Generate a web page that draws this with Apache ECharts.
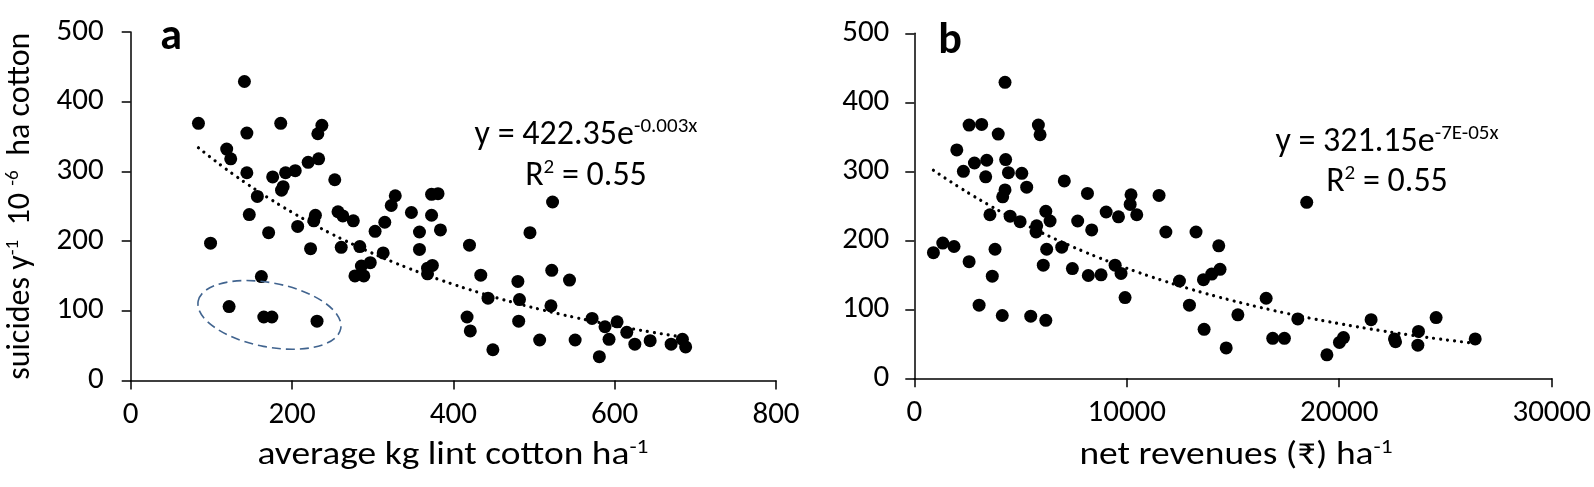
<!DOCTYPE html>
<html>
<head>
<meta charset="utf-8">
<script src="https://cdn.jsdelivr.net/npm/echarts@6/dist/echarts.min.js"></script>
<style>
  html, body { margin: 0; padding: 0; background: #fff; }
  #main { width: 1594px; height: 487px; }
</style>
</head>
<body>
<div id="main"></div>
<script>
// panel a: average kg lint cotton per ha vs suicides
var lintYield = [84, 141, 144, 119, 124, 144, 176, 192, 204, 189, 187, 186, 157, 147, 171, 99, 207, 220, 233, 232,
  237, 229, 227, 253, 257, 263, 276, 303, 315, 323, 328, 348, 358, 223, 261, 284, 313, 297, 286, 278,
  289, 358, 162, 122, 165, 175, 231, 373, 381, 373, 384, 523, 495, 420, 368, 374, 368, 434, 443, 480,
  482, 522, 544, 521, 417, 421, 481, 449, 507, 551, 572, 588, 603, 593, 615, 625, 644, 670, 684, 688, 581];
var suicidesA = [369, 429, 355, 332, 318, 298, 292, 298, 301, 278, 273, 369, 264, 238, 212, 197, 221, 313, 318, 354,
  366, 237, 229, 288, 242, 236, 229, 214, 227, 251, 265, 241, 213, 189, 191, 192, 183, 169, 164, 150,
  150, 188, 149, 106, 91, 91, 85, 267, 268, 237, 216, 256, 212, 194, 161, 165, 153, 151, 118, 142,
  116, 158, 144, 107, 91, 71, 85, 44, 58, 58, 89, 77, 84, 59, 69, 52, 57, 52, 59, 48, 34];

// panel b: net revenues per ha vs suicides
var netRevenue = [4270, 2580, 3170, 3950, 5840, 5920, 2000, 2830, 3410, 2310, 3360, 4300, 4430, 5060, 4270, 4160, 5290, 7060, 3560, 4510,
  4980, 5760, 5730, 6190, 6390, 7690, 8150, 8350, 9030, 9610, 10200, 10160, 10470, 11520, 11840, 13260, 14330, 900, 1340, 1870,
  2580, 3800, 3670, 3050, 4140, 5480, 6190, 6230, 6070, 6940, 7440, 8190, 8790, 9450, 9730, 9920, 12480, 12950, 13640, 13610,
  14000, 14390, 14680, 15230, 16560, 16870, 17420, 18050, 19420, 20010, 20200, 21500, 22600, 22650, 23730, 23700, 24560, 26400, 18470];
var suicidesB = [429, 367, 368, 354, 367, 353, 331, 312, 316, 300, 292, 317, 298, 297, 273, 263, 277, 286, 237, 235,
  227, 221, 212, 242, 228, 228, 268, 215, 241, 234, 266, 252, 237, 265, 212, 212, 192, 182, 196, 191,
  169, 187, 148, 106, 91, 90, 84, 187, 164, 190, 159, 149, 150, 164, 152, 117, 141, 106, 71, 143,
  151, 158, 44, 92, 116, 58, 58, 86, 34, 52, 59, 85, 57, 53, 68, 48, 88, 57, 255];

// exponential fits printed on the chart
var fitA = { a: 422.35, b: -0.0028 };
var fitB = { a: 321.15, b: -0.00007 };

// circled outliers in panel a (centre and half widths in data units)
var ringCentre = [172, 94];
var ringHalf = [90, 46];

var yTicks = { min: 0, max: 500, interval: 100 };
var xTicksA = { min: 0, max: 800, interval: 200 };
var xTicksB = { min: 0, max: 30000, interval: 10000 };

var FONT = 'Carlito, Lato, "Noto Sans", sans-serif';

function pairs(xs, ys) {
  var out = [];
  for (var i = 0; i < xs.length; i++) out.push([xs[i], ys[i]]);
  return out;
}

function fitLine(xs, fit) {
  var lo = Math.min.apply(null, xs), hi = Math.max.apply(null, xs);
  var out = [];
  for (var i = 0; i <= 40; i++) {
    var x = lo + (hi - lo) * i / 40;
    out.push([x, fit.a * Math.exp(fit.b * x)]);
  }
  return out;
}

function axisBase() {
  return {
    axisLine: { show: true, onZero: false, lineStyle: { color: '#000', width: 1.5 } },
    axisTick: { show: true, inside: false, length: 9, lineStyle: { color: '#000', width: 1.5 } },
    splitLine: { show: false }
  };
}

function xAxis(idx, ticks) {
  return Object.assign(axisBase(), {
    type: 'value', gridIndex: idx, min: ticks.min, max: ticks.max, interval: ticks.interval,
    axisLabel: { color: '#000', fontSize: 31, fontFamily: FONT, margin: 19, formatter: function (v) { return String(v); } }
  });
}

function yAxis(idx, name, margin) {
  return Object.assign(axisBase(), {
    type: 'value', gridIndex: idx, min: yTicks.min, max: yTicks.max, interval: yTicks.interval,
    name: name, nameLocation: 'middle', nameGap: 92, nameRotate: 90,
    nameTextStyle: {
      color: '#000', fontSize: 32, fontFamily: FONT, lineHeight: 35,
      rich: { s: { fontSize: 19, lineHeight: 13, verticalAlign: 'top', fontFamily: FONT, color: '#000' } }
    },
    axisLabel: { color: '#000', fontSize: 31, fontFamily: FONT, margin: margin }
  });
}

var chart = echarts.init(document.getElementById('main'));

chart.setOption({
  backgroundColor: '#fff',
  animation: false,
  grid: [
    { left: 130.7, top: 32, width: 645.3, height: 348.4 },
    { left: 914.3, top: 33.3, width: 637.4, height: 345 }
  ],
  xAxis: [xAxis(0, xTicksA), xAxis(1, xTicksB)],
  yAxis: [
    yAxis(0, 'suicides y{s|-1}  10 {s|-6}  ha cotton', 27),
    yAxis(1, '', 25)
  ],
  series: [
    {
      type: 'scatter', xAxisIndex: 0, yAxisIndex: 0, symbolSize: 13,
      itemStyle: { color: '#000', opacity: 1 }, data: pairs(lintYield, suicidesA), z: 3
    },
    {
      type: 'line', xAxisIndex: 0, yAxisIndex: 0, showSymbol: false, smooth: true,
      lineStyle: { color: '#000', width: 3.2, type: [0.01, 7], cap: 'round' },
      data: fitLine(lintYield, fitA), z: 2
    },
    {
      type: 'scatter', xAxisIndex: 1, yAxisIndex: 1, symbolSize: 13,
      itemStyle: { color: '#000', opacity: 1 }, data: pairs(netRevenue, suicidesB), z: 3
    },
    {
      type: 'line', xAxisIndex: 1, yAxisIndex: 1, showSymbol: false, smooth: true,
      lineStyle: { color: '#000', width: 3.2, type: [0.01, 7], cap: 'round' },
      data: fitLine(netRevenue, fitB), z: 2
    }
  ]
});

// annotations: axis titles, equations, panel letters and the dashed ring
var c = chart.convertToPixel({ gridIndex: 0 }, ringCentre);
var e = chart.convertToPixel({ gridIndex: 0 }, [ringCentre[0] + ringHalf[0], ringCentre[1] + ringHalf[1]]);

function supText(x, y, text, size, supSize, raise, sx) {
  return {
    type: 'text', x: x, y: y, z: 10, scaleX: sx || 1,
    style: {
      text: text, align: 'center', verticalAlign: 'middle',
      fontSize: size, lineHeight: size + 4, fontFamily: FONT, fill: '#000',
      rich: {
        m: { fontSize: size, lineHeight: size + 4, fontFamily: FONT, color: '#000' },
        s: { fontSize: supSize, lineHeight: size + 4 - 2 * raise, verticalAlign: 'top', fontFamily: FONT, color: '#000' }
      }
    }
  };
}

chart.setOption({
  graphic: [
    {
      type: 'ellipse', x: c[0], y: c[1], rotation: -0.19, z: 5,
      shape: { cx: 0, cy: 0, rx: e[0] - c[0], ry: c[1] - e[1] },
      style: { fill: 'none', stroke: '#41648f', lineWidth: 1.6, lineDash: [9, 5] }
    },
    supText(453, 456, '{m|average kg lint cotton ha}{s|-1}', 32, 20, 12, 1.17),
    supText(1236, 456, '{m|net revenues (₹) ha}{s|-1}', 32, 20, 12, 1.17),
    supText(586, 135, '{m|y = 422.35e}{s|-0.003x}', 34, 21, 6),
    supText(586, 176, '{m|R}{s|2}{m| = 0.55}', 34, 21, 6),
    supText(1387, 142, '{m|y = 321.15e}{s|-7E-05x}', 34, 21, 6),
    supText(1387, 182, '{m|R}{s|2}{m| = 0.55}', 34, 21, 6),
    { type: 'text', x: 171, y: 38, z: 10, style: { text: 'a', fontSize: 44, fontWeight: 'bold', fontFamily: FONT, fill: '#000', align: 'center', verticalAlign: 'middle' } },
    { type: 'text', x: 950, y: 42, z: 10, style: { text: 'b', fontSize: 44, fontWeight: 'bold', fontFamily: FONT, fill: '#000', align: 'center', verticalAlign: 'middle' } }
  ]
});
</script>
</body>
</html>
